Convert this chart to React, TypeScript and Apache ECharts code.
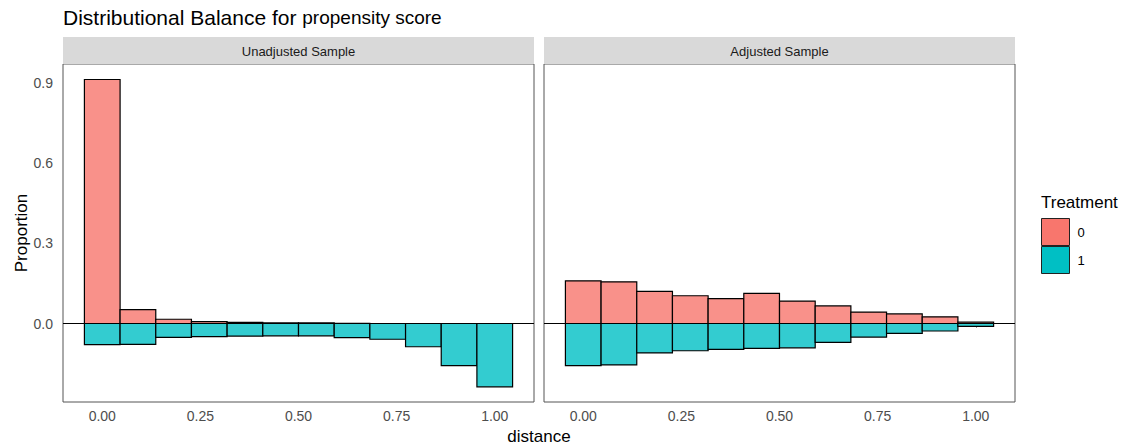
import React, { useEffect, useRef } from "react";
import * as echarts from "echarts";

const binCenters = [0, 0.0909, 0.1818, 0.2727, 0.3636, 0.4545, 0.5455, 0.6364, 0.7273, 0.8182, 0.9091, 1.0];
const binWidth = 0.0909;

const unadjTreat0 = [0.914, 0.052, 0.016, 0.007, 0.004, 0.002, 0.002, 0.001, 0, 0, 0, 0];
const unadjTreat1 = [-0.079, -0.078, -0.052, -0.049, -0.047, -0.046, -0.046, -0.053, -0.059, -0.087, -0.158, -0.237];
const adjTreat0 = [0.16, 0.156, 0.12, 0.104, 0.093, 0.113, 0.084, 0.066, 0.043, 0.036, 0.025, 0.005];
const adjTreat1 = [-0.158, -0.155, -0.11, -0.102, -0.097, -0.093, -0.091, -0.071, -0.051, -0.037, -0.028, -0.011];

const xTicks = [0, 0.25, 0.5, 0.75, 1.0];
const yTicks = [0, 0.3, 0.6, 0.9];
const panelTitles = ["Unadjusted Sample", "Adjusted Sample"];
const treatments = ["0", "1"];

const FONT = "'Liberation Sans', Arial, Helvetica, sans-serif";
const BAR_COLORS = ["#F9918A", "#33CCD0"];
const KEY_COLORS = ["#F8766D", "#00BFC4"];

export default function App() {
  const ref = useRef<HTMLDivElement>(null);

  useEffect(() => {
    if (!ref.current) return;
    const chart = echarts.init(ref.current, undefined, { renderer: "svg" });

    const grids = [
      { left: 63, top: 64, width: 471, height: 338 },
      { left: 544, top: 64, width: 471, height: 338 },
    ];

    const renderBar = (color: string) => (params: any, api: any) => {
      const x = api.value(0);
      const v = api.value(1);
      const p0 = api.coord([x - binWidth / 2, 0]);
      const p1 = api.coord([x + binWidth / 2, v]);
      return {
        type: "rect",
        shape: {
          x: p0[0],
          y: Math.min(p0[1], p1[1]),
          width: p1[0] - p0[0],
          height: Math.abs(p1[1] - p0[1]),
        },
        style: { fill: color, stroke: "#000", lineWidth: 1.2 },
      };
    };

    const panelData = [
      [unadjTreat0, unadjTreat1],
      [adjTreat0, adjTreat1],
    ];

    const series: any[] = [];
    panelData.forEach((pd, gi) => {
      pd.forEach((vals, ti) => {
        series.push({
          type: "custom",
          name: treatments[ti],
          xAxisIndex: gi,
          yAxisIndex: gi,
          renderItem: renderBar(BAR_COLORS[ti]),
          itemStyle: { color: KEY_COLORS[ti] },
          data: vals.map((v, i) => [binCenters[i], v]),
          encode: { x: 0, y: 1 },
          z: 2,
          markLine:
            ti === 1
              ? {
                  silent: true,
                  symbol: "none",
                  label: { show: false },
                  lineStyle: { color: "#000", width: 1, type: "solid" },
                  data: [{ yAxis: 0 }],
                  z: 5,
                }
              : undefined,
        });
      });
    });

    const graphic: any[] = [];
    grids.forEach((g, i) => {
      graphic.push({
        type: "rect",
        shape: { x: g.left, y: 37, width: g.width, height: 27 },
        style: { fill: "#D9D9D9" },
        silent: true,
      });
      graphic.push({
        type: "text",
        x: g.left + g.width / 2,
        y: 51,
        style: {
          text: panelTitles[i],
          fill: "#1A1A1A",
          font: `13px ${FONT}`,
          textAlign: "center",
          textVerticalAlign: "middle",
        },
      });
    });
    graphic.push({
      type: "text",
      x: 539,
      y: 436,
      style: {
        text: "distance",
        fill: "#000",
        font: `17px ${FONT}`,
        textAlign: "center",
        textVerticalAlign: "middle",
      },
    });
    graphic.push({
      type: "text",
      x: 1041,
      y: 202,
      style: {
        text: "Treatment",
        fill: "#000",
        font: `17px ${FONT}`,
        textAlign: "left",
        textVerticalAlign: "middle",
      },
    });

    const option: any = {
      animation: false,
      backgroundColor: "#fff",
      title: {
        text: "{a|Distributional Balance for }{b|propensity score}",
        left: 58,
        top: 2,
        textStyle: {
          fontWeight: "normal",
          rich: {
            a: { fontSize: 21, fontFamily: FONT, color: "#000", fontWeight: "normal" },
            b: { fontSize: 19, fontFamily: FONT, color: "#000", fontWeight: "normal" },
          },
        },
      },
      legend: {
        orient: "vertical",
        left: 1041,
        top: 218,
        padding: 0,
        itemGap: 0,
        itemWidth: 28,
        itemHeight: 27,
        icon: "rect",
        selectedMode: false,
        textStyle: { fontSize: 13, fontFamily: FONT, color: "#000", padding: [0, 0, 0, 3] },
        data: treatments.map((t, i) => ({
          name: t,
          itemStyle: { color: KEY_COLORS[i], borderColor: "#222", borderWidth: 1 },
        })),
      },
      grid: grids.map((g) => ({
        ...g,
        show: true,
        borderColor: "#555",
        borderWidth: 1,
        backgroundColor: "#fff",
        containLabel: false,
      })),
      xAxis: grids.map((_, i) => ({
        type: "value",
        gridIndex: i,
        min: -0.1,
        max: 1.1,
        splitLine: { show: false },
        axisLine: { show: false },
        axisTick: {
          show: true,
          length: 4,
          lineStyle: { color: "#333" },
          customValues: xTicks,
        },
        axisLabel: {
          customValues: xTicks,
          formatter: (v: number) => v.toFixed(2),
          color: "#4D4D4D",
          fontSize: 14,
          fontFamily: FONT,
          margin: 7,
        },
      })),
      yAxis: grids.map((_, i) => ({
        type: "value",
        gridIndex: i,
        min: -0.294,
        max: 0.972,
        splitLine: { show: false },
        axisLine: { show: false },
        name: i === 0 ? "Proportion" : "",
        nameLocation: "middle",
        nameGap: 32,
        nameTextStyle: { fontSize: 17, fontFamily: FONT, color: "#000" },
        axisTick: {
          show: i === 0,
          length: 4,
          lineStyle: { color: "#333" },
          customValues: yTicks,
        },
        axisLabel: {
          show: i === 0,
          customValues: yTicks,
          formatter: (v: number) => v.toFixed(1),
          color: "#4D4D4D",
          fontSize: 14,
          fontFamily: FONT,
          margin: 10,
        },
      })),
      series,
      graphic,
    };

    chart.setOption(option);
    return () => chart.dispose();
  }, []);

  return (
    <div
      ref={ref}
      style={{ position: "fixed", left: 0, top: 0, width: 1128, height: 448, background: "#fff" }}
    />
  );
}
